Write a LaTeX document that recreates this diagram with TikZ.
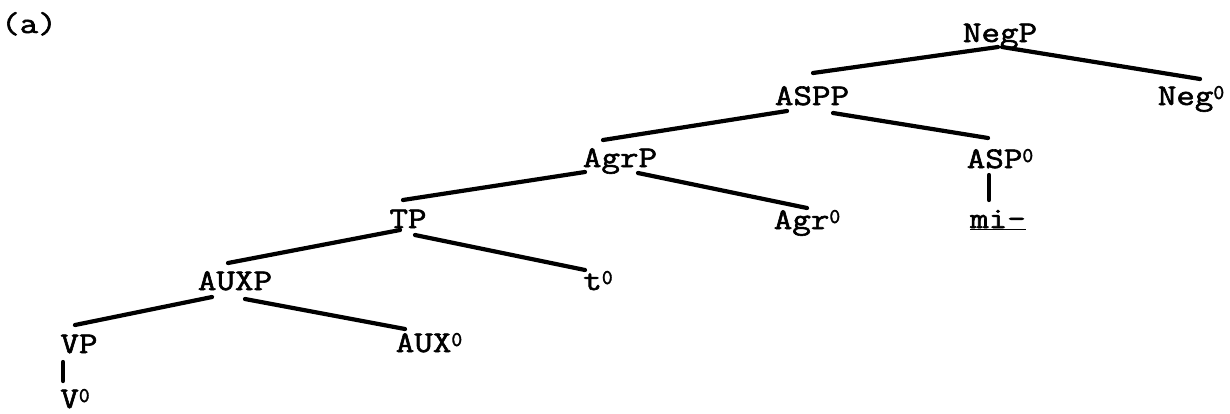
\documentclass[tikz,border=0pt]{standalone}
\usepackage{fontspec}
\setmainfont{Latin Modern Mono}[FakeStretch=1.2,FakeBold=2]
\newfontfamily\supfont{Latin Modern Mono}[FakeBold=1.5]
\newcommand{\zsup}{\raisebox{6pt}{\supfont\fontsize{21}{21}\selectfont 0}}
\tikzset{
  lbl/.style={anchor=base, inner sep=0pt, font=\fontsize{30}{32}\selectfont},
  branch/.style={line width=4.2pt, line cap=round},
}
\begin{document}
\begin{tikzpicture}[x=1pt,y=-1pt]
\useasboundingbox (0,0) rectangle (1230,413);
\node[lbl] (lab) at (29,33) {(a)};
\node[lbl] (negp) at (1000,42) {NegP};
\node[lbl] (aspp) at (812,105) {ASPP};
\node[lbl] (neg0) at (1191,105) {Neg\zsup};
\node[lbl] (agrp) at (620,167) {AgrP};
\node[lbl] (asp0) at (1000,168) {ASP\zsup};
\node[lbl] (mi) at (998,228) {\underline{mi-}};
\node[lbl] (tp) at (408,228) {TP};
\node[lbl] (agr0) at (807,229) {Agr\zsup};
\node[lbl] (t0) at (598,290) {t\zsup};
\node[lbl] (auxp) at (235,290) {AUXP};
\node[lbl] (vp) at (79,353) {VP};
\node[lbl] (aux0) at (429,352) {AUX\zsup};
\node[lbl] (v0) at (75,408) {V\zsup};

\draw[branch] ([shift={(-2,5)}]negp.base) -- ([shift={(1,-32)}]aspp.base);
\draw[branch] ([shift={(2,5)}]negp.base) -- ([shift={(9,-26)}]neg0.base);
\draw[branch] ([shift={(-25,6)}]aspp.base) -- ([shift={(-17,-27)}]agrp.base);
\draw[branch] ([shift={(21,8)}]aspp.base) -- ([shift={(-12,-30)}]asp0.base);
\draw[branch] ([shift={(-11,7)}]asp0.base) -- ([shift={(-9,-28)}]mi.base);
\draw[branch] ([shift={(-35,5)}]agrp.base) -- ([shift={(-5,-28)}]tp.base);
\draw[branch] ([shift={(18,6)}]agrp.base) -- ([shift={(0,-21)}]agr0.base);
\draw[branch] ([shift={(-8,2)}]tp.base) -- ([shift={(-7,-27)}]auxp.base);
\draw[branch] ([shift={(7,7)}]tp.base) -- ([shift={(-13,-20)}]t0.base);
\draw[branch] ([shift={(-23,7)}]auxp.base) -- ([shift={(-4,-28)}]vp.base);
\draw[branch] ([shift={(10,9)}]auxp.base) -- ([shift={(-24,-23)}]aux0.base);
\draw[branch] ([shift={(-16,9)}]vp.base) -- ([shift={(-12,-27)}]v0.base);
\end{tikzpicture}
\end{document}
